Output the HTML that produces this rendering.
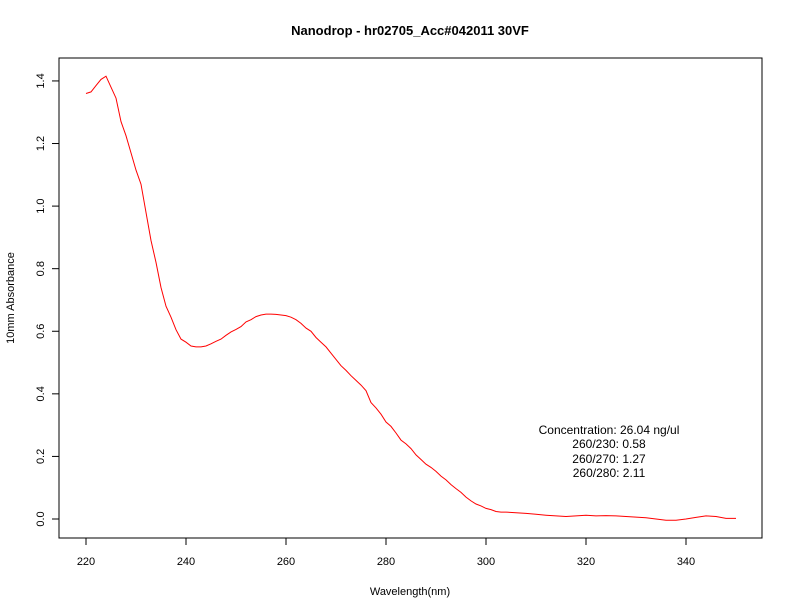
<!DOCTYPE html>
<html><head><meta charset="utf-8"><style>
body{margin:0;background:#fff}
svg{display:block;font-family:"Liberation Sans",Arial,sans-serif}
</style></head><body>
<svg id="chart" width="792" height="612">
<rect width="792" height="612" fill="#fff"/>
<text x="410" y="35" text-anchor="middle" font-size="13" font-weight="bold">Nanodrop - hr02705_Acc#042011 30VF</text>
<rect x="59" y="58" width="703" height="480" fill="none" stroke="#000"/>
<g id="xaxis"></g>
<g id="yaxis"></g>
<text x="410" y="595" text-anchor="middle" font-size="11">Wavelength(nm)</text>
<text transform="translate(14,298) rotate(-90)" text-anchor="middle" font-size="11">10mm Absorbance</text>
<path id="curve" fill="none" stroke="#ff0000" stroke-width="1"/>
<g font-size="12" text-anchor="middle">
<text x="609" y="434">Concentration: 26.04 ng/ul</text>
<text x="609" y="448">260/230: 0.58</text>
<text x="609" y="463">260/270: 1.27</text>
<text x="609" y="477">260/280: 2.11</text>
</g>
</svg>
<script>
const wavelengths=[220,221,222,223,224,225,226,227,228,229,230,231,232,233,234,235,236,237,238,239,240,241,242,243,244,245,246,247,248,249,250,251,252,253,254,255,256,257,258,259,260,261,262,263,264,265,266,267,268,269,270,271,272,273,274,275,276,277,278,279,280,281,282,283,284,285,286,287,288,289,290,291,292,293,294,295,296,297,298,299,300,301,302,303,304,306,308,310,312,314,316,318,320,322,324,326,328,330,332,334,336,338,340,342,344,346,348,350];
const absorbance=[1.36,1.365,1.385,1.405,1.415,1.38,1.345,1.27,1.225,1.17,1.115,1.07,0.98,0.89,0.82,0.74,0.68,0.645,0.605,0.575,0.565,0.553,0.55,0.55,0.553,0.56,0.568,0.575,0.587,0.598,0.606,0.615,0.63,0.637,0.647,0.652,0.655,0.655,0.654,0.652,0.65,0.645,0.637,0.625,0.61,0.6,0.58,0.565,0.55,0.53,0.51,0.49,0.475,0.458,0.443,0.428,0.41,0.372,0.355,0.335,0.31,0.296,0.275,0.252,0.24,0.225,0.205,0.19,0.175,0.165,0.152,0.137,0.125,0.11,0.097,0.085,0.07,0.058,0.048,0.042,0.034,0.03,0.024,0.022,0.022,0.02,0.018,0.015,0.012,0.01,0.008,0.01,0.012,0.01,0.011,0.01,0.008,0.006,0.004,0.0,-0.004,-0.004,0.0,0.005,0.01,0.008,0.002,0.002];
const xTicks=[220,240,260,280,300,320,340];
const yTicks=[0.0,0.2,0.4,0.6,0.8,1.0,1.2,1.4];
const NS="http://www.w3.org/2000/svg";
function xs(v){return 86+(v-220)*5;}
function ys(v){return 519-v*312.9;}
const xg=document.getElementById('xaxis'),yg=document.getElementById('yaxis');
function mk(tag,attrs,parent){const e=document.createElementNS(NS,tag);for(const k in attrs)e.setAttribute(k,attrs[k]);parent.appendChild(e);return e;}
xTicks.forEach(t=>{
  const l=mk('line',{x1:xs(t),x2:xs(t),y1:538,y2:545,stroke:'#000'},xg);
  
  
  const tx=mk('text',{x:xs(t),y:565,'text-anchor':'middle','font-size':11},xg);
  tx.textContent=t;
  
  
});
yTicks.forEach(t=>{
  const l=mk('line',{x1:52,x2:59,y1:ys(t),y2:ys(t),stroke:'#000'},yg);
  
  
  const tx=mk('text',{transform:`translate(44,${ys(t)}) rotate(-90)`,'text-anchor':'middle','font-size':11},yg);
  tx.textContent=t.toFixed(1);
  
  
});
document.getElementById('curve').setAttribute('d',wavelengths.map((w,i)=>(i?'L':'M')+xs(w).toFixed(1)+','+ys(absorbance[i]).toFixed(1)).join(''));
</script>
</body></html>
